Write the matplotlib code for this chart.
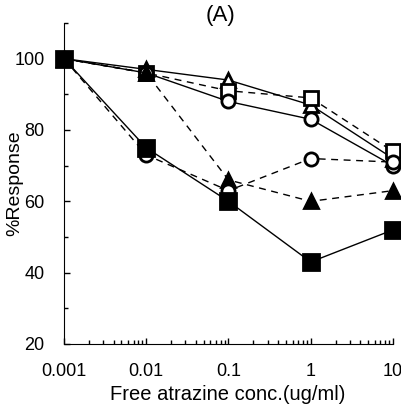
import matplotlib
matplotlib.use('Agg')
import matplotlib.pyplot as plt
from matplotlib.ticker import LogLocator, MultipleLocator, FixedLocator, FixedFormatter

plt.rcParams['font.family'] = ['Liberation Sans', 'DejaVu Sans']

conc = [0.001, 0.01, 0.1, 1, 10]
x_labels = ['0.001', '0.01', '0.1', '1', '10']

# response curves (%), one list per series
tri_solid = [100, 97, 94, 87, 72]
sq_dashed = [100, 96, 91, 89, 74]
circ_solid = [100, 96, 88, 83, 70]
tri_dashed = [100, 96, 66, 60, 63]
circ_dashed = [100, 73, 63, 72, 71]
sq_solid = [100, 75, 60, 43, 52]

series = [
    (tri_solid, '-', '^', False, 10),
    (sq_dashed, '--', 's', False, 9.5),
    (circ_solid, '-', 'o', False, 9.5),
    (tri_dashed, '--', '^', True, 10),
    (circ_dashed, '--', 'o', False, 9.5),
    (sq_solid, '-', 's', True, 11),
]

W, H = 402, 412
fig = plt.figure(figsize=(W / 100, H / 100), dpi=100)
ax = fig.add_axes([64 / W, 1 - 344 / H, (393 - 64) / W, (344 - 23) / H])

for vals, ls, mk, filled, ms in series:
    ax.plot(conc, vals, color='black', linestyle=ls, linewidth=1.0,
            marker=mk, markersize=ms, markeredgewidth=2.0,
            markerfacecolor='black' if filled else 'white',
            markeredgecolor='black', clip_on=False,
            dashes=(5, 4) if ls == '--' else (None, None))

ax.set_xscale('log')
ax.set_xlim(0.001, 10)
ax.set_ylim(20, 110)
ax.spines['top'].set_visible(False)
ax.spines['right'].set_visible(False)
ax.xaxis.set_major_locator(FixedLocator(conc))
ax.xaxis.set_major_formatter(FixedFormatter(x_labels))
ax.xaxis.set_minor_locator(LogLocator(base=10, subs=range(2, 10)))
ax.xaxis.set_minor_formatter(FixedFormatter([]))
ax.yaxis.set_major_locator(FixedLocator([20, 40, 60, 80, 100]))
ax.yaxis.set_minor_locator(MultipleLocator(10))
ax.tick_params(which='both', direction='in', width=1.0)
ax.tick_params(which='major', length=4, labelsize=13)
ax.tick_params(which='minor', length=3)
ax.tick_params(axis='x', which='major', pad=14)
ax.tick_params(axis='y', which='major', pad=14)

fig.text(221 / W, 1 - 15 / H, '(A)', fontsize=16, ha='center', va='center')
fig.text(228 / W, 1 - 394 / H, 'Free atrazine conc.(ug/ml)', fontsize=14.5,
         ha='center', va='center')
fig.text(15 / W, 1 - 183 / H, '%Response', fontsize=14, rotation=90,
         ha='center', va='center')

plt.savefig('out.png', dpi=100)
